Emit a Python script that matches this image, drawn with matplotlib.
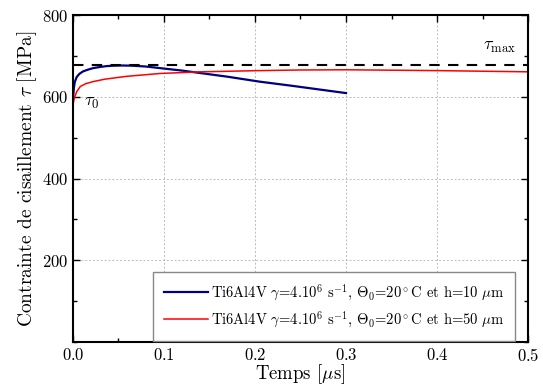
import matplotlib
matplotlib.use('Agg')
import matplotlib.pyplot as plt
from matplotlib.ticker import MultipleLocator

plt.rcParams['font.family'] = ['cmr10', 'DejaVu Serif']
plt.rcParams['mathtext.fontset'] = 'cm'
plt.rcParams['axes.unicode_minus'] = False
plt.rcParams['axes.formatter.use_mathtext'] = True

# h = 10 um (blue)
t_10 = [0.0, 0.001, 0.002, 0.004, 0.007, 0.011, 0.016, 0.022, 0.03, 0.037, 0.045,
        0.055, 0.065, 0.08, 0.096, 0.12, 0.14, 0.17, 0.205, 0.24, 0.27, 0.3]
tau_10 = [595, 622, 636, 648, 656, 662, 666, 670, 673, 675, 676,
          676.5, 676, 674, 670, 664, 658, 649, 637, 627, 618, 609]

# h = 50 um (red)
t_50 = [0.0, 0.001, 0.002, 0.004, 0.008, 0.014, 0.022, 0.035, 0.059, 0.096,
        0.14, 0.205, 0.25, 0.3, 0.35, 0.4, 0.45, 0.5]
tau_50 = [580, 592, 600, 612, 625, 632, 637, 643, 650, 657,
          661, 664, 665.5, 666, 665, 664, 662.5, 661]

tau_max = 677

labels = [r'Ti6Al4V $\gamma$=4.10$^6$ s$^{-1}$, $\Theta_0$=20$^\circ$C et h=10 $\mu$m',
          r'Ti6Al4V $\gamma$=4.10$^6$ s$^{-1}$, $\Theta_0$=20$^\circ$C et h=50 $\mu$m']

fig = plt.figure(figsize=(5.43, 3.85), dpi=100)
ax = fig.add_axes([0.1344, 0.1117, 0.838, 0.8493])

ax.plot(t_10, tau_10, color='#000080', lw=1.6, label=labels[0])
ax.plot(t_50, tau_50, color='#ff0000', lw=1.1, label=labels[1])
ax.axhline(tau_max, color='black', lw=1.5, ls=(0, (5, 4)))

ax.text(0.012, 585, r'$\tau_0$', fontsize=13, va='center')
ax.text(0.45, 720, r'$\tau_{\mathrm{max}}$', fontsize=13, va='center')

ax.set_xlim(0, 0.5)
ax.set_ylim(0, 800)
ax.xaxis.set_major_locator(MultipleLocator(0.1))
ax.xaxis.set_minor_locator(MultipleLocator(0.05))
ax.yaxis.set_major_locator(MultipleLocator(200))
ax.yaxis.set_minor_locator(MultipleLocator(100))
ax.set_yticks([200, 400, 600, 800])
ax.tick_params(which='both', direction='in', top=True, right=True, labelsize=12)
ax.tick_params(which='major', length=5, width=1)
ax.tick_params(which='minor', length=3, width=1)
ax.grid(True, which='major', color='#bbbbbb', ls=(0, (2, 2)), lw=0.7)
for s in ax.spines.values():
    s.set_linewidth(1.5)

ax.set_xlabel(r'Temps [$\mu$s]', fontsize=13.5, labelpad=-1)
ax.set_ylabel(r'Contrainte de cisaillement $\tau$ [MPa]', fontsize=14, labelpad=2)

leg = ax.legend(loc='lower right', fontsize=10.5, fancybox=False, framealpha=1,
                edgecolor='#888888', borderpad=0.75, labelspacing=0.45,
                handlelength=3.0, handletextpad=0.2, borderaxespad=0.1,
                bbox_to_anchor=(0.975, 0.0))
leg.get_frame().set_linewidth(1.0)

fig.savefig('out.png', dpi=100)
